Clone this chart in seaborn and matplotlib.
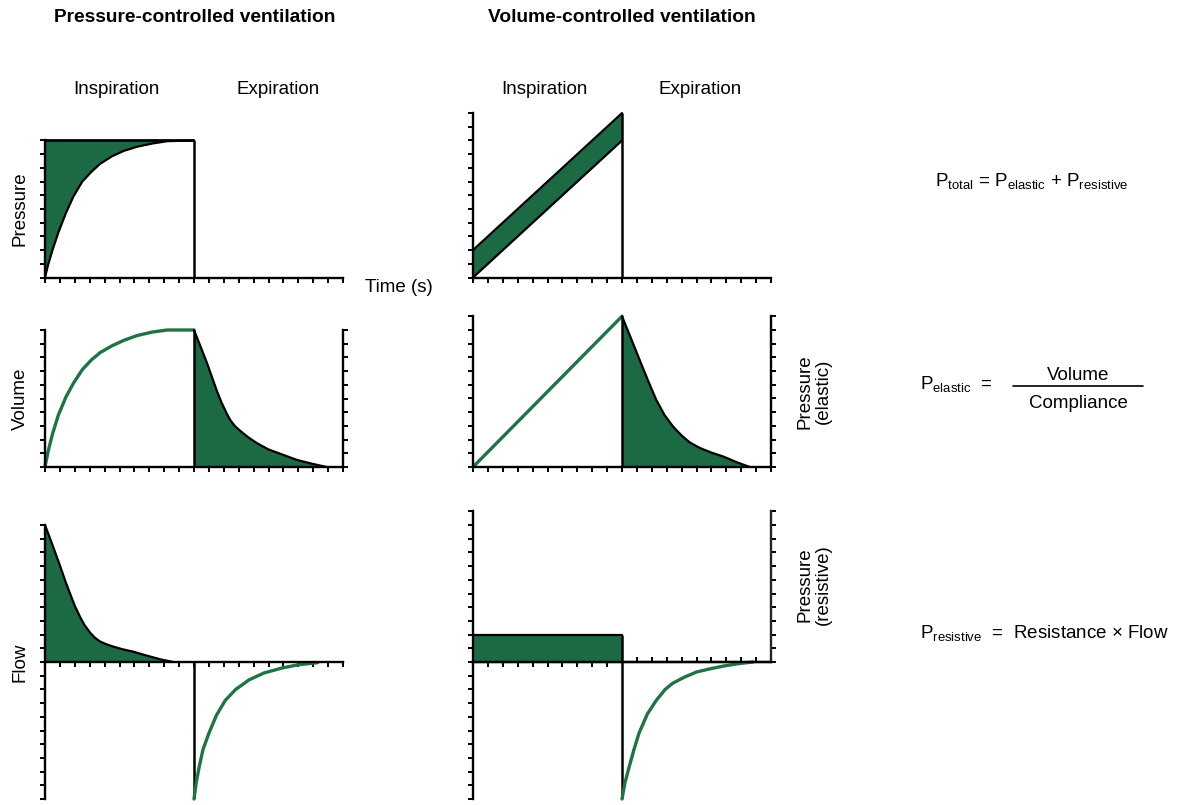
import numpy as np
import matplotlib.pyplot as plt
import seaborn as sns
from matplotlib.lines import Line2D

# time in breath units: 0-1 inspiration, 1-2 expiration
# --- pressure-controlled ventilation ---
pcv_set_pressure = 1.0
pcv_p_t = [0, 0.02, 0.05, 0.09, 0.14, 0.19, 0.25, 0.31, 0.37, 0.45, 0.53, 0.62, 0.72, 0.82, 1.0]
pcv_p = [0, 0.09, 0.20, 0.33, 0.47, 0.59, 0.70, 0.77, 0.83, 0.885, 0.925, 0.955, 0.978, 0.995, 1.0]

pcv_vi_t = [0, 0.02, 0.05, 0.09, 0.14, 0.19, 0.25, 0.31, 0.37, 0.45, 0.53, 0.62, 0.72, 0.82, 1.0]
pcv_vi = [0, 0.11, 0.24, 0.38, 0.51, 0.61, 0.71, 0.78, 0.835, 0.885, 0.925, 0.96, 0.985, 1.0, 1.0]
pcv_ve_t = [1.0, 1.04, 1.085, 1.152, 1.185, 1.219, 1.245, 1.275, 1.309, 1.36, 1.421,
            1.50, 1.60, 1.69, 1.78, 1.89]
pcv_ve = [1.0, 0.89, 0.765, 0.56, 0.47, 0.392, 0.34, 0.298, 0.265, 0.22, 0.175,
          0.128, 0.088, 0.052, 0.027, 0.0]

pcv_fi_t = [0, 0.05, 0.10, 0.14, 0.168, 0.20, 0.235, 0.265, 0.302, 0.335, 0.369, 0.41,
            0.459, 0.52, 0.593, 0.65, 0.705, 0.78, 0.861]
pcv_fi = [1.0, 0.855, 0.705, 0.58, 0.50, 0.41, 0.33, 0.27, 0.215, 0.177, 0.15, 0.13,
          0.112, 0.093, 0.075, 0.057, 0.04, 0.018, 0.0]
pcv_fe_t = [1.0, 1.015, 1.034, 1.06, 1.10, 1.15, 1.21, 1.28, 1.37, 1.47, 1.59, 1.70, 1.83]
pcv_fe = [-1.0, -0.88, -0.77, -0.64, -0.52, -0.39, -0.28, -0.20, -0.13, -0.08, -0.044, -0.02, -0.005]

# --- volume-controlled ventilation ---
vcv_t = [0, 1]
vcv_p_elastic = [0, 1.0]
vcv_p_total = [0.2, 1.2]
vcv_p_resistive = [0.2, 0.2]

vcv_vi = [0, 1.1]
vcv_pe_t = [1.0, 1.06, 1.119, 1.175, 1.23, 1.285, 1.342, 1.40, 1.454, 1.52, 1.60, 1.678, 1.77, 1.857]
vcv_pe = [1.1, 0.94, 0.78, 0.63, 0.49, 0.38, 0.296, 0.23, 0.18, 0.14, 0.105, 0.077, 0.035, 0.0]

vcv_fe_t = [1.0, 1.02, 1.047, 1.08, 1.114, 1.17, 1.23, 1.29, 1.34, 1.42, 1.50, 1.59, 1.68, 1.78, 1.88]
vcv_fe = [-1.0, -0.88, -0.77, -0.64, -0.52, -0.38, -0.28, -0.20, -0.155, -0.11, -0.073, -0.05, -0.03, -0.012, 0.0]

sns.set_theme(style="ticks")
plt.rcParams["font.family"] = ["Liberation Sans", "DejaVu Sans"]
plt.rcParams["mathtext.fontset"] = "custom"
plt.rcParams["mathtext.rm"] = "Liberation Sans"
plt.rcParams["text.color"] = "black"
plt.rcParams["axes.labelcolor"] = "black"

W, H = 1177, 805
S = 137.0          # pixels per unit on every y axis
PW = 298           # panel width in pixels
GREEN = "#1c6a43"
LGREEN = "#1f7444"
SPINE_LW = 1.7
FS = 13.5

fig = plt.figure(figsize=(W / 100, H / 100), dpi=100)


def panel(x_left, y_zero, ylo, yhi):
    top = y_zero - yhi * S
    bot = y_zero - ylo * S
    ax = fig.add_axes([x_left / W, 1 - bot / H, PW / W, (bot - top) / H])
    ax.set_xlim(0, 2)
    ax.set_ylim(ylo, yhi)
    ax.set_facecolor("none")
    for s in ["top", "right"]:
        ax.spines[s].set_visible(False)
    for s in ["left", "bottom", "right"]:
        ax.spines[s].set_linewidth(SPINE_LW)
        ax.spines[s].set_color("black")
    ax.set_xticks(np.linspace(0, 2, 21))
    ax.set_yticks(np.round(np.arange(ylo, yhi + 1e-6, 0.1), 2))
    ax.tick_params(length=3.5, width=1.4, color="black",
                   labelleft=False, labelbottom=False, labelright=False)
    return ax


def zero_axis(ax, ylo, yhi):
    # expiration half of the time axis sits at zero with ticks pointing up
    ax.spines["bottom"].set_position(("data", 0))
    ax.set_xticks(np.linspace(0, 0.9, 10))
    sec = ax.secondary_xaxis(-ylo / (yhi - ylo))
    sec.set_xticks(np.linspace(1, 2, 11))
    sec.set_xticklabels([])
    sec.tick_params(direction="in", length=3.5, width=1.4, color="black",
                    labelbottom=False, labeltop=False)
    sec.spines["bottom"].set_linewidth(SPINE_LW)


def label_left(ax, text):
    ax.set_ylabel(text, fontsize=FS, visible=True)
    ax.yaxis.set_label_coords(-0.054, 0.5)


def label_right(ax, text, yfrac):
    ax.yaxis.set_label_position("right")
    ax.set_ylabel(text, fontsize=FS, linespacing=1.1, visible=True)
    ax.yaxis.set_label_coords(1.085, yfrac)


def black(ax, x, y):
    sns.lineplot(x=x, y=y, ax=ax, color="black", linewidth=1.6,
                 estimator=None, sort=False, clip_on=False)


def green(ax, x, y):
    sns.lineplot(x=x, y=y, ax=ax, color=LGREEN, linewidth=2.4,
                 estimator=None, sort=False, clip_on=False)


# ---------- pressure-controlled ----------
ax = panel(45, 277.5, 0, 1.0)
ax.fill_between(pcv_p_t, pcv_p, pcv_set_pressure, color=GREEN, lw=0, clip_on=False)
black(ax, pcv_p_t, pcv_p)
ax.hlines(pcv_set_pressure, 0, 1, color="black", lw=2.0, clip_on=False)
ax.vlines(1, 0, pcv_set_pressure, color="black", lw=1.8)
label_left(ax, "Pressure")
ax.text(1.074, -0.073, "Time (s)", transform=ax.transAxes, fontsize=FS,
        ha="left", va="center")

ax = panel(45, 467, 0, 1.0)
ax.spines["right"].set_visible(True)
ax.tick_params(right=True)
green(ax, pcv_vi_t, pcv_vi)
ax.fill_between(pcv_ve_t, pcv_ve, 0, color=GREEN, lw=0)
black(ax, pcv_ve_t, pcv_ve)
ax.vlines(1, 0, 1.0, color="black", lw=1.8)
label_left(ax, "Volume")

ax = panel(45, 662, -1.0, 1.0)
zero_axis(ax, -1.0, 1.0)
ax.fill_between(pcv_fi_t, pcv_fi, 0, color=GREEN, lw=0, clip_on=False)
black(ax, pcv_fi_t, pcv_fi)
ax.vlines(1, -1, 0, color="black", lw=1.8)
green(ax, pcv_fe_t, pcv_fe)
label_left(ax, "Flow")

# ---------- volume-controlled ----------
ax = panel(473, 277.5, 0, 1.2)
ax.fill_between(vcv_t, vcv_p_elastic, vcv_p_total, color=GREEN, lw=0, clip_on=False)
black(ax, vcv_t, vcv_p_elastic)
black(ax, vcv_t, vcv_p_total)
ax.vlines(1, 0, 1.2, color="black", lw=1.8, clip_on=False)

ax = panel(473, 467, 0, 1.1)
ax.spines["right"].set_visible(True)
ax.tick_params(right=True)
green(ax, vcv_t, vcv_vi)
ax.fill_between(vcv_pe_t, vcv_pe, 0, color=GREEN, lw=0)
black(ax, vcv_pe_t, vcv_pe)
ax.vlines(1, 0, 1.1, color="black", lw=1.8)
label_right(ax, "Pressure\n(elastic)", 0.5)

ax = panel(473, 662, -1.0, 1.1)
zero_axis(ax, -1.0, 1.1)
ax.fill_between(vcv_t, vcv_p_resistive, 0, color=GREEN, lw=0)
black(ax, vcv_t, vcv_p_resistive)
ax.vlines(1, -1, vcv_p_resistive[-1], color="black", lw=1.8)
green(ax, vcv_fe_t, vcv_fe)
sec = ax.secondary_yaxis("right")
sec.set_yticks(np.round(np.arange(0, 1.11, 0.1), 2))
sec.set_yticklabels([])
sec.spines["right"].set_bounds(0, 1.1)
sec.spines["right"].set_linewidth(SPINE_LW)
sec.tick_params(length=3.5, width=1.4, color="black", labelright=False)
label_right(ax, "Pressure\n(resistive)", 0.745)

# ---------- headings ----------
fig.text(195 / W, 1 - 18 / H, "Pressure-controlled ventilation", ha="center", va="center",
         fontsize=13.8, fontweight="bold")
fig.text(622 / W, 1 - 18 / H, "Volume-controlled ventilation", ha="center", va="center",
         fontsize=13.8, fontweight="bold")
for xc, lab in [(116, "Inspiration"), (278, "Expiration"), (544, "Inspiration"), (700, "Expiration")]:
    fig.text(xc / W, 1 - 90 / H, lab, ha="center", va="center", fontsize=FS)

# ---------- equations ----------
fig.text(935 / W, 1 - 187 / H,
         r"P$_{\mathregular{total}}$ = P$_{\mathregular{elastic}}$ + P$_{\mathregular{resistive}}$",
         va="baseline", fontsize=FS)
fig.text(920 / W, 1 - 390 / H, r"P$_{\mathregular{elastic}}$  =", va="baseline", fontsize=FS)
fig.text(1078 / W, 1 - 380 / H, "Volume", ha="center", va="baseline", fontsize=FS)
fig.add_artist(Line2D([1013 / W, 1143 / W], [1 - 386 / H] * 2, color="black", lw=1.2))
fig.text(1078 / W, 1 - 408 / H, "Compliance", ha="center", va="baseline", fontsize=FS)
fig.text(920 / W, 1 - 639 / H, r"P$_{\mathregular{resistive}}$  =  Resistance × Flow",
         va="baseline", fontsize=FS)

fig.savefig("out.png", dpi=100, facecolor="white")
